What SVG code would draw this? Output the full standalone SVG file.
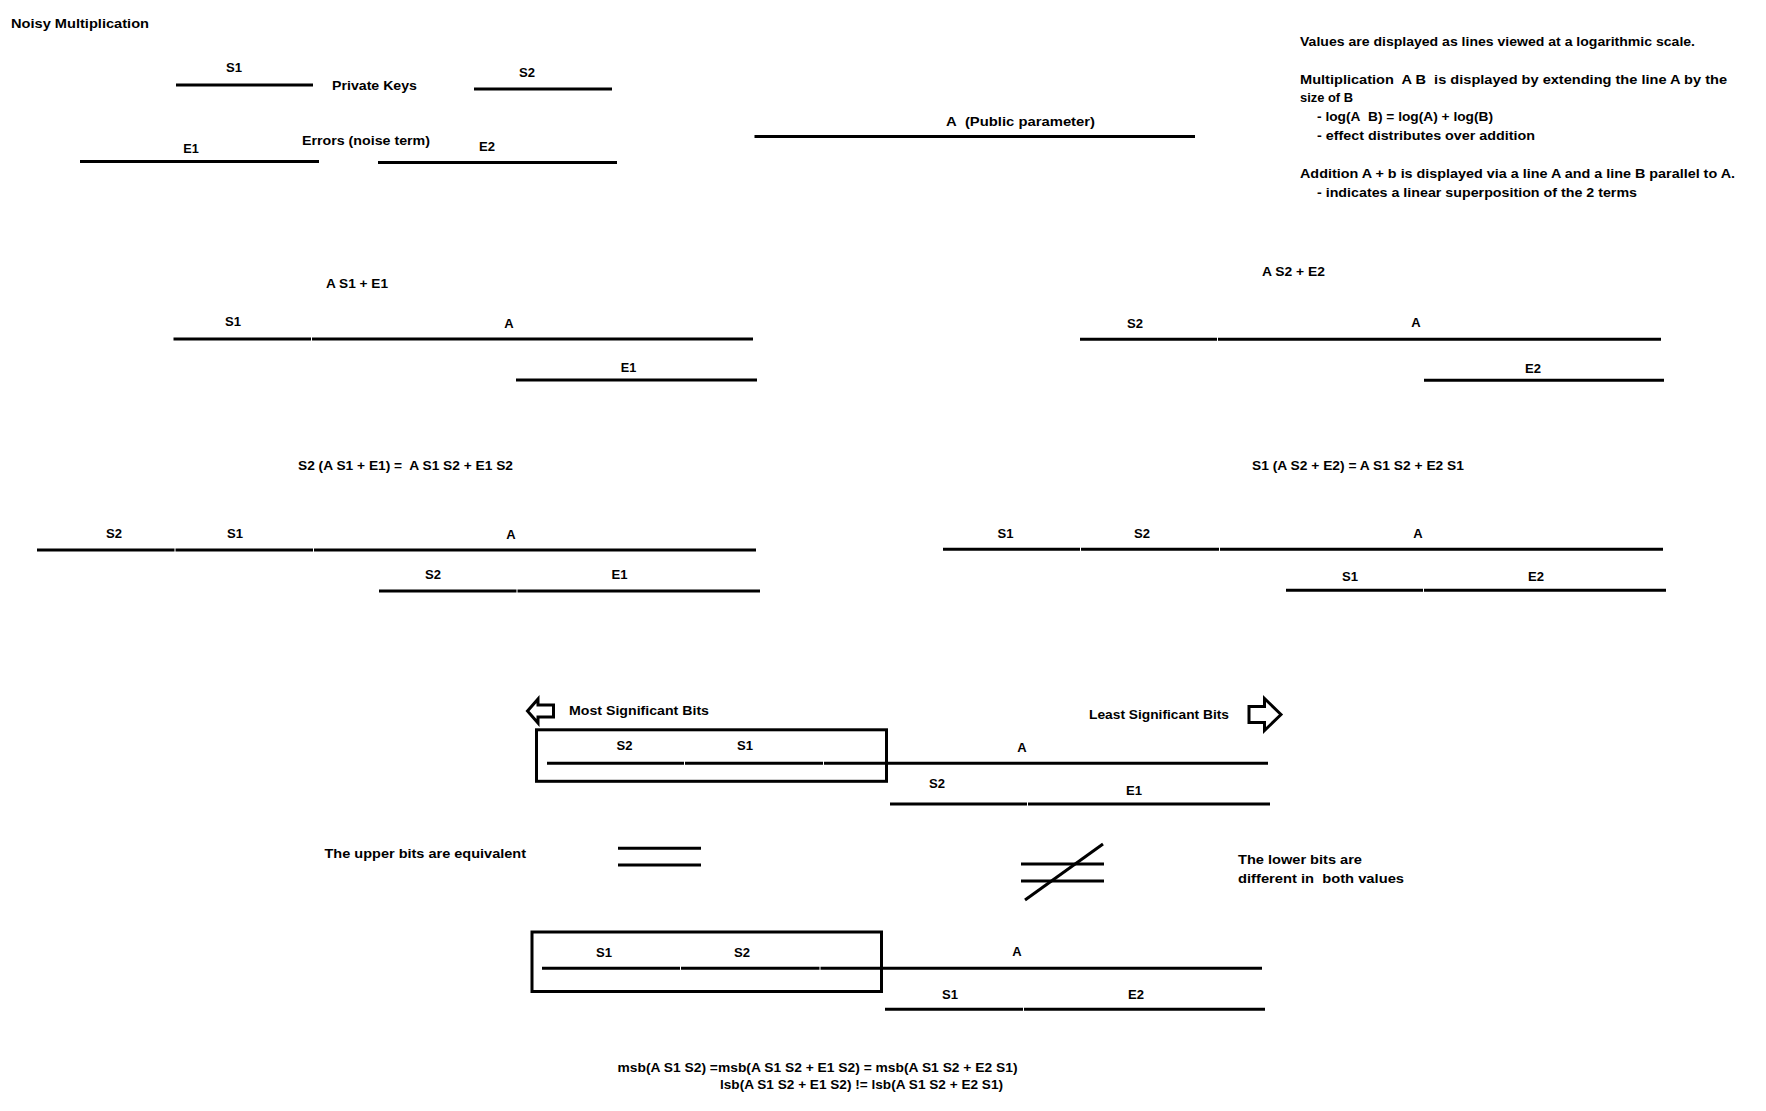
<svg xmlns="http://www.w3.org/2000/svg" width="1766" height="1111" viewBox="0 0 1766 1111">
<style>
.t{font-family:"Liberation Sans",Arial,sans-serif;font-weight:bold;font-size:13px;fill:#000;white-space:pre}
.c{text-anchor:middle}
.ln{stroke:#000;stroke-width:3;fill:none;stroke-linecap:butt}
.box{stroke:#000;stroke-width:3;fill:none}
.arr{stroke:#000;stroke-width:3;fill:#fff;stroke-linejoin:miter}
</style>
<rect width="1766" height="1111" fill="#fff"/>
<g id="title"><text class="t" x="11" y="28" textLength="138" lengthAdjust="spacingAndGlyphs">Noisy Multiplication</text></g>
<g id="legend-keys">
<line class="ln" x1="176" y1="85" x2="313" y2="85"/>
<text class="t c" x="234" y="71.5" textLength="16" lengthAdjust="spacingAndGlyphs">S1</text>
<text class="t" x="332" y="89.5" textLength="85" lengthAdjust="spacingAndGlyphs">Private Keys</text>
<line class="ln" x1="474" y1="89" x2="612" y2="89"/>
<text class="t c" x="527" y="76.5" textLength="16" lengthAdjust="spacingAndGlyphs">S2</text>
</g>
<g id="legend-errors">
<line class="ln" x1="80" y1="161.5" x2="319" y2="161.5"/>
<text class="t c" x="191" y="152.5" textLength="15.5" lengthAdjust="spacingAndGlyphs">E1</text>
<text class="t" x="302" y="144.5" textLength="128" lengthAdjust="spacingAndGlyphs">Errors (noise term)</text>
<line class="ln" x1="378" y1="162.5" x2="617" y2="162.5"/>
<text class="t c" x="487" y="150.5" textLength="16" lengthAdjust="spacingAndGlyphs">E2</text>
</g>
<g id="legend-public">
<line class="ln" x1="754.5" y1="136.5" x2="1195" y2="136.5"/>
<text class="t" x="946" y="125.5" textLength="149" lengthAdjust="spacingAndGlyphs">A&#160; (Public parameter)</text>
</g>
<g id="notes">
<text class="t" x="1300" y="45.5" textLength="395" lengthAdjust="spacingAndGlyphs">Values are displayed as lines viewed at a logarithmic scale.</text>
<text class="t" x="1300" y="83.5" textLength="427" lengthAdjust="spacingAndGlyphs">Multiplication&#160; A B&#160; is displayed by extending the line A by the</text>
<text class="t" x="1300" y="102" textLength="53" lengthAdjust="spacingAndGlyphs">size of B</text>
<text class="t" x="1317" y="120.5" textLength="176" lengthAdjust="spacingAndGlyphs">- log(A&#160; B) = log(A) + log(B)</text>
<text class="t" x="1317" y="139.5" textLength="218" lengthAdjust="spacingAndGlyphs">- effect distributes over addition</text>
<text class="t" x="1300" y="178" textLength="435" lengthAdjust="spacingAndGlyphs">Addition A + b is displayed via a line A and a line B parallel to A.</text>
<text class="t" x="1317" y="196.5" textLength="320" lengthAdjust="spacingAndGlyphs">- indicates a linear superposition of the 2 terms</text>
</g>
<g id="as1e1">
<text class="t" x="326" y="287.5" textLength="62" lengthAdjust="spacingAndGlyphs">A S1 + E1</text>
<line class="ln" x1="173.5" y1="339" x2="311" y2="339"/>
<line class="ln" x1="312" y1="339" x2="753" y2="339"/>
<line class="ln" x1="516" y1="380" x2="757" y2="380"/>
<text class="t c" x="233" y="326" textLength="16" lengthAdjust="spacingAndGlyphs">S1</text>
<text class="t c" x="509" y="327.5">A</text>
<text class="t c" x="628.5" y="371.5" textLength="15.5" lengthAdjust="spacingAndGlyphs">E1</text>
</g>
<g id="as2e2">
<text class="t" x="1262" y="275.5" textLength="63" lengthAdjust="spacingAndGlyphs">A S2 + E2</text>
<line class="ln" x1="1080" y1="339.3" x2="1217" y2="339.3"/>
<line class="ln" x1="1218" y1="339.3" x2="1661" y2="339.3"/>
<line class="ln" x1="1424" y1="380.3" x2="1664" y2="380.3"/>
<text class="t c" x="1135" y="328" textLength="16" lengthAdjust="spacingAndGlyphs">S2</text>
<text class="t c" x="1416" y="327">A</text>
<text class="t c" x="1533" y="372.5" textLength="16" lengthAdjust="spacingAndGlyphs">E2</text>
</g>
<g id="s2-times">
<text class="t" x="298" y="470" textLength="215" lengthAdjust="spacingAndGlyphs">S2 (A S1 + E1) =&#160; A S1 S2 + E1 S2</text>
<line class="ln" x1="37" y1="550" x2="174.5" y2="550"/>
<line class="ln" x1="175.5" y1="550" x2="313" y2="550"/>
<line class="ln" x1="314" y1="550" x2="756" y2="550"/>
<line class="ln" x1="379" y1="591" x2="516.5" y2="591"/>
<line class="ln" x1="517.5" y1="591" x2="760" y2="591"/>
<text class="t c" x="114" y="537.5" textLength="16" lengthAdjust="spacingAndGlyphs">S2</text>
<text class="t c" x="235" y="537.5" textLength="16" lengthAdjust="spacingAndGlyphs">S1</text>
<text class="t c" x="511" y="539">A</text>
<text class="t c" x="433" y="579.3" textLength="16" lengthAdjust="spacingAndGlyphs">S2</text>
<text class="t c" x="619.5" y="579.3" textLength="16" lengthAdjust="spacingAndGlyphs">E1</text>
</g>
<g id="s1-times">
<text class="t" x="1252" y="470" textLength="212" lengthAdjust="spacingAndGlyphs">S1 (A S2 + E2) = A S1 S2 + E2 S1</text>
<line class="ln" x1="943" y1="549.3" x2="1080" y2="549.3"/>
<line class="ln" x1="1081" y1="549.3" x2="1219" y2="549.3"/>
<line class="ln" x1="1220" y1="549.3" x2="1663" y2="549.3"/>
<line class="ln" x1="1286" y1="590.3" x2="1423" y2="590.3"/>
<line class="ln" x1="1424" y1="590.3" x2="1666" y2="590.3"/>
<text class="t c" x="1005.5" y="538.3" textLength="16" lengthAdjust="spacingAndGlyphs">S1</text>
<text class="t c" x="1142" y="538.3" textLength="16" lengthAdjust="spacingAndGlyphs">S2</text>
<text class="t c" x="1418" y="537.5">A</text>
<text class="t c" x="1350" y="580.7" textLength="16" lengthAdjust="spacingAndGlyphs">S1</text>
<text class="t c" x="1536" y="580.7" textLength="16" lengthAdjust="spacingAndGlyphs">E2</text>
</g>
<g id="msb-arrow">
<polygon class="arr" points="527.5,711 538,699 538,705 553.5,705 553.5,717 538,717 538,723"/>
<text class="t" x="569" y="715" textLength="140" lengthAdjust="spacingAndGlyphs">Most Significant Bits</text>
</g>
<g id="lsb-arrow">
<text class="t" x="1089" y="719" textLength="140" lengthAdjust="spacingAndGlyphs">Least Significant Bits</text>
<polygon class="arr" points="1281,714.5 1264.5,698.5 1264.5,706.5 1249,706.5 1249,722.5 1264.5,722.5 1264.5,730.5"/>
</g>
<g id="product-1">
<rect class="box" x="536.5" y="729.8" width="350" height="51.5"/>
<line class="ln" x1="547" y1="763.3" x2="684" y2="763.3"/>
<line class="ln" x1="685" y1="763.3" x2="823" y2="763.3"/>
<line class="ln" x1="824" y1="763.3" x2="1268" y2="763.3"/>
<line class="ln" x1="890" y1="804" x2="1027" y2="804"/>
<line class="ln" x1="1028" y1="804" x2="1270" y2="804"/>
<text class="t c" x="624.5" y="750" textLength="16" lengthAdjust="spacingAndGlyphs">S2</text>
<text class="t c" x="745" y="750" textLength="16" lengthAdjust="spacingAndGlyphs">S1</text>
<text class="t c" x="1022" y="751.5">A</text>
<text class="t c" x="937" y="788.3" textLength="16" lengthAdjust="spacingAndGlyphs">S2</text>
<text class="t c" x="1134" y="795" textLength="16" lengthAdjust="spacingAndGlyphs">E1</text>
</g>
<g id="equal">
<text class="t" x="324.5" y="857.5" textLength="201.5" lengthAdjust="spacingAndGlyphs">The upper bits are equivalent</text>
<line class="ln" x1="618" y1="848.3" x2="701" y2="848.3"/>
<line class="ln" x1="618" y1="865" x2="701" y2="865"/>
</g>
<g id="not-equal">
<line class="ln" x1="1021" y1="864" x2="1104" y2="864"/>
<line class="ln" x1="1021" y1="881" x2="1104" y2="881"/>
<line class="ln" x1="1025" y1="900" x2="1103" y2="844"/>
<text class="t" x="1238" y="864.3" textLength="124" lengthAdjust="spacingAndGlyphs">The lower bits are</text>
<text class="t" x="1238" y="882.7" textLength="166" lengthAdjust="spacingAndGlyphs">different in&#160; both values</text>
</g>
<g id="product-2">
<rect class="box" x="532" y="932" width="349.5" height="59.5"/>
<line class="ln" x1="542" y1="968.3" x2="680" y2="968.3"/>
<line class="ln" x1="681" y1="968.3" x2="819.5" y2="968.3"/>
<line class="ln" x1="820.5" y1="968.3" x2="1262" y2="968.3"/>
<line class="ln" x1="885" y1="1009.3" x2="1023" y2="1009.3"/>
<line class="ln" x1="1024" y1="1009.3" x2="1265" y2="1009.3"/>
<text class="t c" x="604" y="956.7" textLength="16" lengthAdjust="spacingAndGlyphs">S1</text>
<text class="t c" x="742" y="956.7" textLength="16" lengthAdjust="spacingAndGlyphs">S2</text>
<text class="t c" x="1017" y="956">A</text>
<text class="t c" x="950" y="999" textLength="16" lengthAdjust="spacingAndGlyphs">S1</text>
<text class="t c" x="1136" y="999" textLength="16" lengthAdjust="spacingAndGlyphs">E2</text>
</g>
<g id="conclusion">
<text class="t" x="617.5" y="1071.5" textLength="400" lengthAdjust="spacingAndGlyphs">msb(A S1 S2) =msb(A S1 S2 + E1 S2) = msb(A S1 S2 + E2 S1)</text>
<text class="t" x="720" y="1089.3" textLength="283" lengthAdjust="spacingAndGlyphs">lsb(A S1 S2 + E1 S2) != lsb(A S1 S2 + E2 S1)</text>
</g>
</svg>
